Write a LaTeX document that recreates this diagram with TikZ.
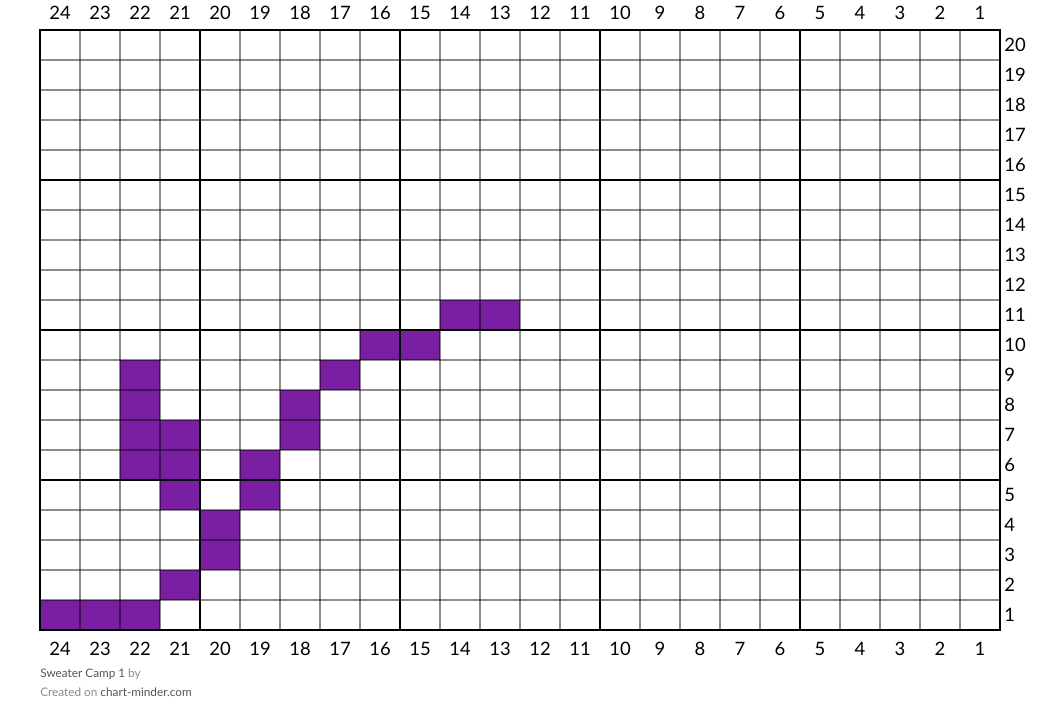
\documentclass[tikz,border=0pt]{standalone}
\usepackage{fontspec}
\setmainfont{Lato}
\usepackage{xcolor}
\definecolor{stitchpurple}{HTML}{7B1FA2}
\definecolor{footdark}{HTML}{555555}
\definecolor{footlight}{HTML}{8A8A8A}

\begin{document}
\begin{tikzpicture}[
        x=0.02cm, y=-0.02cm,
        stitch/.style={fill=stitchpurple},
        thinrule/.style={draw=black, draw opacity=0.45, line width=0.6pt},
        thickrule/.style={draw=black, line width=1.2pt},
        numlabel/.style={font=\fontsize{10.5}{12}\selectfont, inner sep=0pt},
        footnote/.style={font=\fontsize{6.7}{8}\selectfont, inner sep=0pt, anchor=west},
      ]
        \useasboundingbox (0,0) rectangle (1040,723);
        % filled stitches, column/row
        \foreach \c/\r in {24/1, 23/1, 22/1, 21/2, 20/3, 20/4, 21/5, 19/5,
                           22/6, 21/6, 19/6, 22/7, 21/7, 18/7, 22/8, 18/8,
                           22/9, 17/9, 16/10, 15/10, 14/11, 13/11}
          \fill[stitch] ({40+(24-\c)*40},{630-\r*30}) rectangle +(40,30);
        % grid
        \foreach \i in {1,...,23}
          \draw[thinrule] ({40+40*\i},30) -- ({40+40*\i},630);
        \foreach \j in {1,...,19}
          \draw[thinrule] (40,{30+30*\j}) -- (1000,{30+30*\j});
        \foreach \x in {200,400,600,800}
          \draw[thickrule] (\x,30) -- (\x,630);
        \foreach \y in {180,330,480}
          \draw[thickrule] (40,\y) -- (1000,\y);
        \draw[thickrule] (40,30) rectangle (1000,630);
        % numbers
        \foreach \c in {1,...,24} {
          \node[numlabel] (top\c) at ({40+(24-\c)*40+20},13) {\c};
          \node[numlabel] (bot\c) at ({40+(24-\c)*40+20},649) {\c};
        }
        \foreach \r in {1,...,20}
          \node[numlabel, anchor=west] (row\r) at (1004,{630-30*\r+15}) {\r};
        % footer
        \node[footnote] (title) at (40,674) {\textcolor{footdark}{Sweater Camp 1} \textcolor{footlight}{by}};
        \node[footnote] (credit) at (40,692) {\textcolor{footlight}{Created on} \textcolor{footdark}{chart-minder.com}};
      \end{tikzpicture}
\end{document}
